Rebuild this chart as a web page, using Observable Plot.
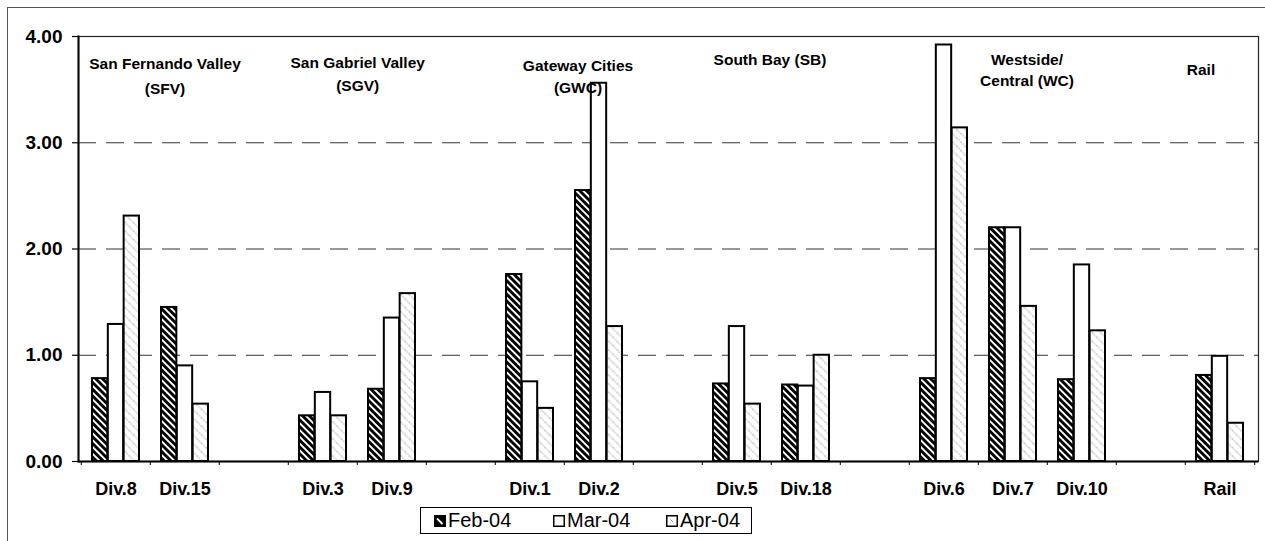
<!DOCTYPE html>
<html>
<head>
<meta charset="utf-8">
<script src="https://cdn.jsdelivr.net/npm/d3@7"></script>
<script src="https://cdn.jsdelivr.net/npm/@observablehq/plot@0.6"></script>
<style>
  html, body { margin: 0; padding: 0; background: #fff; }
  body { font-family: "Liberation Sans", Arial, sans-serif; }
  #wrap { position: relative; width: 1265px; height: 541px; overflow: hidden; }
  #border { position: absolute; left: 7px; top: 7px; width: 1275px; height: 600px; border: 1px solid #555; box-sizing: border-box; }
  #chart { position: relative; }
  #legend { position: relative; margin-left: 420px; margin-top: 7px; width: 332px; height: 27px; border: 1px solid #000; box-sizing: border-box; background: #fff; }
  .item { position: absolute; top: 0; height: 25px; display: flex; align-items: center; font-size: 20px; color: #000; }
  .item svg { margin-right: 2px; }
</style>
</head>
<body>
<div id="wrap">
  <div id="border"></div>
  <div id="chart"></div>
  <div id="legend"></div>
</div>
<script>
// ---- data ----
const slots = ["Div.8","Div.15","gap1","Div.3","Div.9","gap2","Div.1","Div.2","gap3","Div.5","Div.18","gap4","Div.6","Div.7","Div.10","gap5","Rail"];
const divisions = ["Div.8","Div.15","Div.3","Div.9","Div.1","Div.2","Div.5","Div.18","Div.6","Div.7","Div.10","Rail"];
const months = ["Feb-04","Mar-04","Apr-04"];
const feb = [0.78, 1.45, 0.43, 0.68, 1.76, 2.55, 0.73, 0.72, 0.78, 2.20, 0.77, 0.81];
const mar = [1.29, 0.90, 0.65, 1.35, 0.75, 3.56, 1.27, 0.71, 3.92, 2.20, 1.85, 0.99];
const apr = [2.31, 0.54, 0.43, 1.58, 0.50, 1.27, 0.54, 1.00, 3.14, 1.46, 1.23, 0.36];
const yTicks = [0, 1, 2, 3, 4];
const gridValues = [1, 2, 3];
const groupNames = ["San Fernando Valley\n(SFV)", "San Gabriel Valley\n(SGV)", "Gateway Cities\n(GWC)", "South Bay (SB)", "Westside/\nCentral (WC)", "Rail"];
const groupAnchors = ["Div.8", "Div.3", "Div.1", "Div.5", "Div.7", "Rail"];

// ---- layout ----
const W = 1265, H = 500, mL = 78, mR = 7, mT = 36, mB = 39;
const padIn = 0.316;
const step = (W - mL - mR) / slots.length;
const third = step * (1 - padIn) / 3;
const fills = ["url(#patFeb)", "#ffffff", "url(#patApr)"];
const series = [feb, mar, apr];

const bars = series.map((vals, k) => Plot.barY(divisions, {
  x: d => d,
  y: (d, i) => vals[i],
  fill: fills[k],
  stroke: "#000",
  strokeWidth: 2,
  insetLeft: k * third,
  insetRight: (2 - k) * third
}));

// per-label placement (style offsets, not data)
const labelPlace = [
  {dx: 49, dy: 15, lh: 1.6},
  {dx: step / 2, dy: 15, lh: 1.5},
  {dx: 48, dy: 19, lh: 1.42},
  {dx: 33, dy: 13, lh: 1.4},
  {dx: 14, dy: 13, lh: 1.39},
  {dx: -19, dy: 23, lh: 1.4}
];
const groupLabels = groupNames.map((name, i) => Plot.text([i], {
  x: () => groupAnchors[i],
  text: () => groupNames[i],
  frameAnchor: "top",
  lineAnchor: "top",
  dx: labelPlace[i].dx,
  dy: labelPlace[i].dy,
  lineHeight: labelPlace[i].lh,
  fontSize: 15.5,
  fontWeight: "bold",
  fill: "#000"
}));

const chart = Plot.plot({
  width: W,
  height: H,
  marginLeft: mL,
  marginRight: mR,
  marginTop: mT,
  marginBottom: mB,
  style: {fontFamily: "'Liberation Sans', Arial, sans-serif", fontSize: "18px", fontWeight: "bold", color: "#000", background: "transparent", overflow: "visible"},
  x: {type: "band", domain: slots, paddingInner: padIn, paddingOuter: padIn / 2, align: 0.5, label: null},
  y: {domain: [0, 4], label: null},
  marks: [
    Plot.ruleY(gridValues, {stroke: "#333", strokeWidth: 1, strokeDasharray: "18,10"}),
    ...bars,
    Plot.frame({stroke: "#222", strokeWidth: 1.2}),
    Plot.ruleY([0], {stroke: "#000", strokeWidth: 2}),
    Plot.frame({anchor: "left", stroke: "#000", strokeWidth: 2}),
    Plot.axisY(yTicks, {tickSize: 6, tickPadding: 10, tickFormat: d3.format(".2f"), fontSize: 19, fontWeight: "bold", strokeWidth: 1.2}),
    Plot.axisX({tickSize: 0, tickPadding: 21, tickFormat: d => d.startsWith("gap") ? "" : d, fontSize: 18, fontWeight: "bold"}),
    Plot.axisX({tickSize: 4, tickFormat: () => "", dx: -step / 2}),
    Plot.axisX(["Rail"], {tickSize: 4, tickFormat: () => "", dx: step / 2}),
    ...groupLabels
  ]
});
document.getElementById("chart").appendChild(chart);

// ---- patterns ----
const svgEl = chart.tagName.toLowerCase() === "svg" ? chart : chart.querySelector("svg");
const defs = d3.select(svgEl).insert("defs", ":first-child");
const pf = defs.append("pattern").attr("id", "patFeb").attr("patternUnits", "userSpaceOnUse")
  .attr("width", 4.8).attr("height", 4.8).attr("patternTransform", "rotate(45)");
pf.append("rect").attr("width", 4.8).attr("height", 4.8).attr("fill", "#000");
pf.append("rect").attr("y", 0).attr("width", 4.8).attr("height", 1.9).attr("fill", "#fff");
const pa = defs.append("pattern").attr("id", "patApr").attr("patternUnits", "userSpaceOnUse")
  .attr("width", 6).attr("height", 6).attr("patternTransform", "rotate(45)");
pa.append("rect").attr("width", 6).attr("height", 6).attr("fill", "#fff");
pa.append("line").attr("x1", 0).attr("x2", 6).attr("y1", 3).attr("y2", 3)
  .attr("stroke", "#9a9a9a").attr("stroke-width", 0.9).attr("stroke-dasharray", "1.3,1");

// ---- legend ----
const legend = d3.select("#legend");
const legendLeft = [13, 132, 245];
months.forEach((m, k) => {
  const it = legend.append("div").attr("class", "item").style("left", legendLeft[k] + "px");
  const sw = it.append("svg").attr("width", 12).attr("height", 12);
  if (k === 0) {
    sw.append("rect").attr("x", 0.75).attr("y", 0.75).attr("width", 10.5).attr("height", 10.5).attr("fill", "#000").attr("stroke", "#000").attr("stroke-width", 1.5);
    sw.append("line").attr("x1", 3).attr("y1", 3.5).attr("x2", 8.5).attr("y2", 9).attr("stroke", "#fff").attr("stroke-width", 1.8);
  } else if (k === 1) {
    sw.append("rect").attr("x", 0.75).attr("y", 0.75).attr("width", 10.5).attr("height", 10.5).attr("fill", "#fff").attr("stroke", "#000").attr("stroke-width", 1.5);
  } else {
    sw.append("rect").attr("x", 0.75).attr("y", 0.75).attr("width", 10.5).attr("height", 10.5).attr("fill", "#fff").attr("stroke", "#000").attr("stroke-width", 1.5);
    sw.append("line").attr("x1", 4.5).attr("y1", 4.5).attr("x2", 7).attr("y2", 7).attr("stroke", "#888").attr("stroke-width", 1);
  }
  it.append("span").text(m);
});
</script>
</body>
</html>
